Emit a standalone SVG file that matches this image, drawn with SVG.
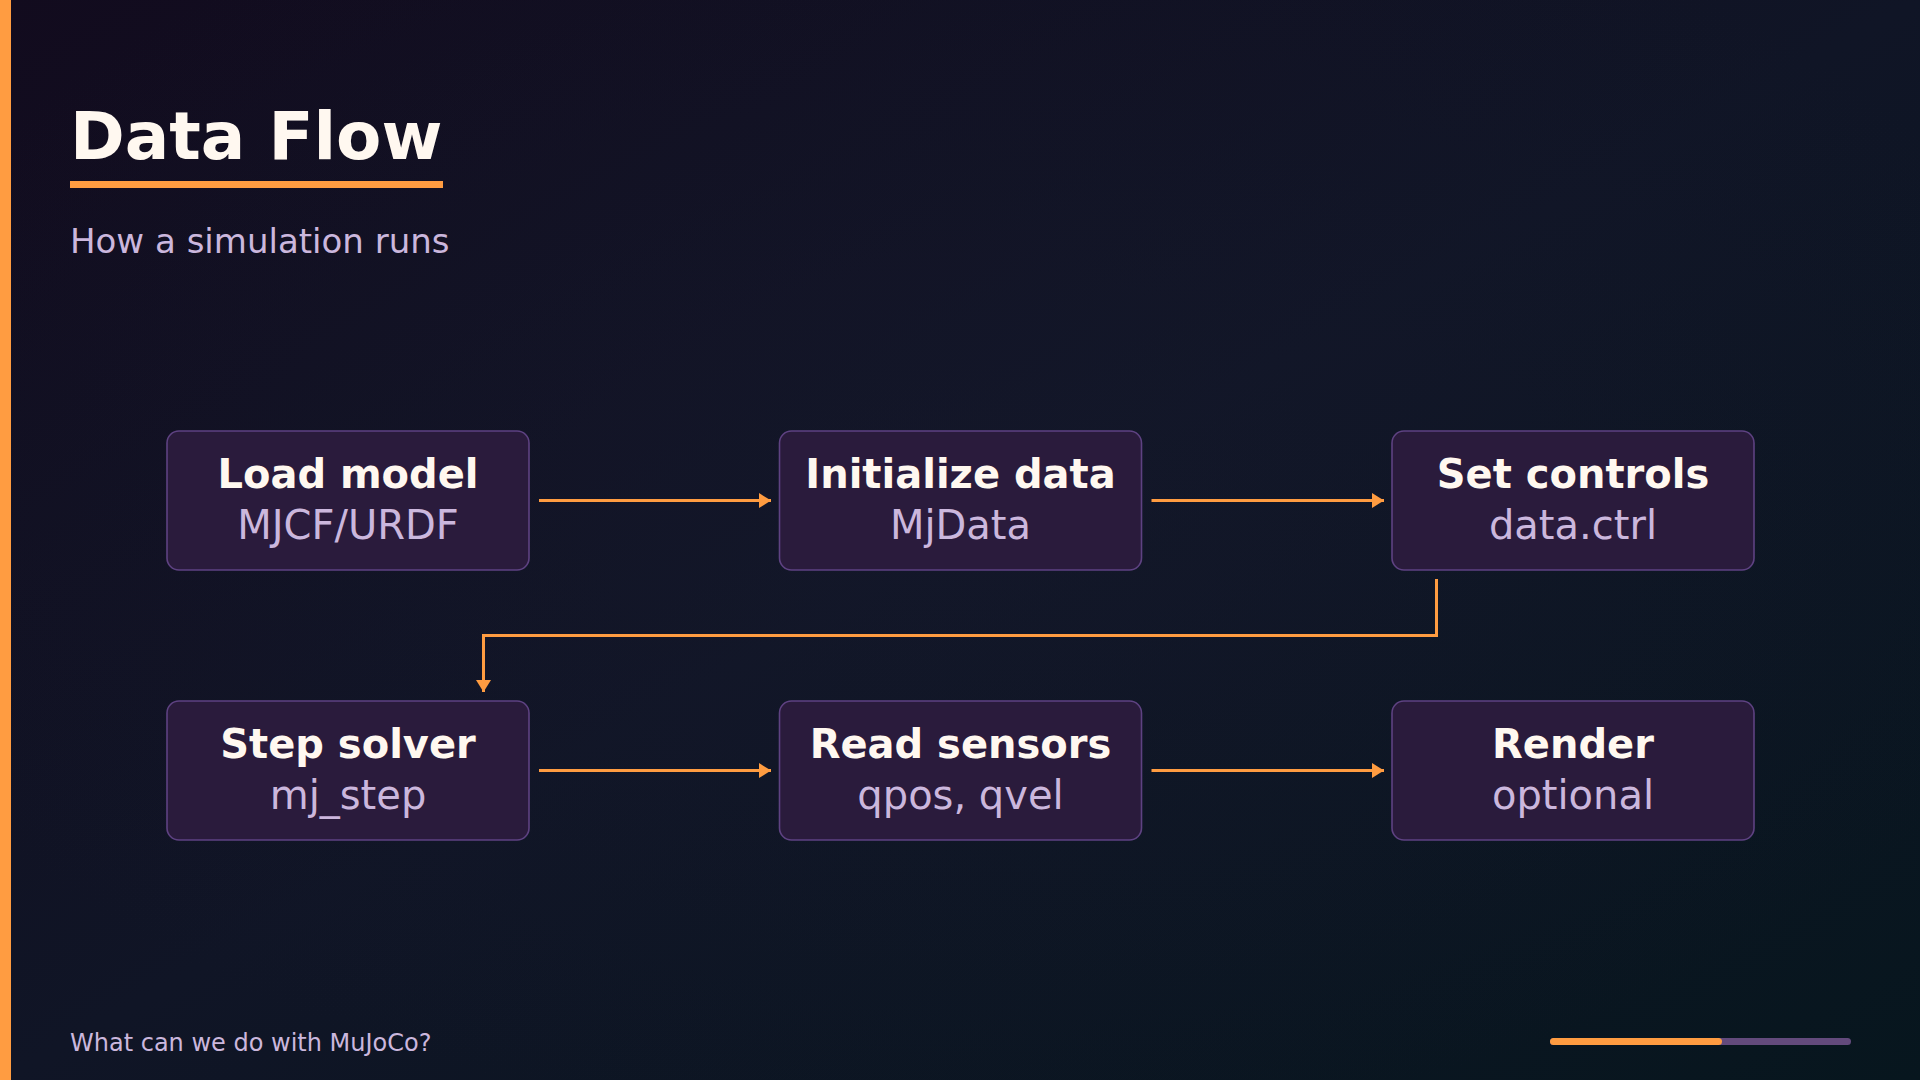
<svg xmlns="http://www.w3.org/2000/svg" width="1920" height="1080" viewBox="0 0 1920 1080">
  <defs>
    <linearGradient id="bg" x1="0" y1="0" x2="1" y2="1">
      <stop offset="0" stop-color="#120b1e"/>
      <stop offset="0.5" stop-color="#101526"/>
      <stop offset="1" stop-color="#07161e"/>
    </linearGradient>
    <radialGradient id="glow" cx="0.5" cy="0.45" r="0.6">
      <stop offset="0" stop-color="#16192c" stop-opacity="0.5"/>
      <stop offset="1" stop-color="#16192c" stop-opacity="0"/>
    </radialGradient>
    <marker id="arrow" markerUnits="userSpaceOnUse" markerWidth="13" markerHeight="15" refX="12" refY="7.5" orient="auto">
      <path d="M0,0 L12,7.5 L0,15 Z" fill="#ff9c41"/>
    </marker>
    <style>
      .box { fill: #2a1b3c; stroke: #5e4282; stroke-width: 1.6; }
      .t { font-family: "DejaVu Sans", "Liberation Sans", sans-serif; font-weight: bold; font-size: 40px; fill: #fff8f0; text-anchor: middle; }
      .s { font-family: "DejaVu Sans", "Liberation Sans", sans-serif; font-size: 40px; fill: #cbb7dd; text-anchor: middle; }
      .edge { fill: none; stroke: #ff9c41; stroke-width: 3; marker-end: url(#arrow); }
    </style>
  </defs>

  <rect x="0" y="0" width="1920" height="1080" fill="url(#bg)"/>
  <rect x="0" y="0" width="1920" height="1080" fill="url(#glow)"/>
  <rect x="0" y="0" width="11" height="1080" fill="#ff9c41"/>

  <g id="header">
    <text x="70" y="159" font-family="DejaVu Sans, Liberation Sans, sans-serif" font-weight="bold" font-size="66" fill="#fff8f0">Data Flow</text>
    <rect x="70" y="181" width="373" height="7" fill="#ff9c41"/>
    <text x="70" y="253" font-family="DejaVu Sans, Liberation Sans, sans-serif" font-size="34" fill="#cbb7dd">How a simulation runs</text>
  </g>

  <g id="connectors">
    <path class="edge" d="M539,500.5 H771"/>
    <path class="edge" d="M1151.5,500.5 H1384"/>
    <path class="edge" d="M1436.5,579 V635.5 H483.5 V692"/>
    <path class="edge" d="M539,770.5 H771"/>
    <path class="edge" d="M1151.5,770.5 H1384"/>
  </g>

  <g id="load-model">
    <rect class="box" x="167" y="431" width="362" height="139" rx="12"/>
    <text class="t" x="348" y="488">Load model</text>
    <text class="s" x="348" y="539">MJCF/URDF</text>
  </g>
  <g id="initialize-data">
    <rect class="box" x="779.5" y="431" width="362" height="139" rx="12"/>
    <text class="t" x="960.5" y="488">Initialize data</text>
    <text class="s" x="960.5" y="539">MjData</text>
  </g>
  <g id="set-controls">
    <rect class="box" x="1392" y="431" width="362" height="139" rx="12"/>
    <text class="t" x="1573" y="488">Set controls</text>
    <text class="s" x="1573" y="539">data.ctrl</text>
  </g>
  <g id="step-solver">
    <rect class="box" x="167" y="701" width="362" height="139" rx="12"/>
    <text class="t" x="348" y="758">Step solver</text>
    <text class="s" x="348" y="809">mj_step</text>
  </g>
  <g id="read-sensors">
    <rect class="box" x="779.5" y="701" width="362" height="139" rx="12"/>
    <text class="t" x="960.5" y="758">Read sensors</text>
    <text class="s" x="960.5" y="809">qpos, qvel</text>
  </g>
  <g id="render">
    <rect class="box" x="1392" y="701" width="362" height="139" rx="12"/>
    <text class="t" x="1573" y="758">Render</text>
    <text class="s" x="1573" y="809">optional</text>
  </g>

  <g id="footer">
    <text x="70" y="1051" font-family="DejaVu Sans, Liberation Sans, sans-serif" font-size="24" fill="#cbb7dd">What can we do with MuJoCo?</text>
    <rect x="1550" y="1038" width="301" height="7" rx="3.5" fill="#634a7c"/>
    <rect x="1550" y="1038" width="172" height="7" rx="3.5" fill="#ff9c41"/>
  </g>
</svg>
